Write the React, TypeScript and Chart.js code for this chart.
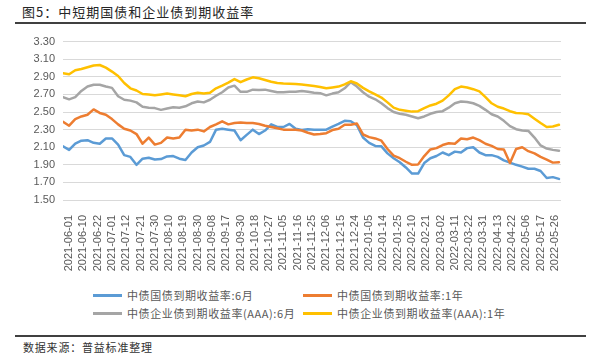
import React, { useEffect, useRef } from 'react';
import { Chart, registerables } from 'chart.js';

Chart.register(...registerables);

// x-axis tick labels (one every 7 trading days)
const TICK_LABELS = [
  '2021-06-01', '2021-06-10', '2021-06-22', '2021-07-01', '2021-07-12', '2021-07-21', '2021-07-30',
  '2021-08-10', '2021-08-19', '2021-08-30', '2021-09-08', '2021-09-17', '2021-09-30', '2021-10-18',
  '2021-10-27', '2021-11-05', '2021-11-16', '2021-11-25', '2021-12-06', '2021-12-15', '2021-12-24',
  '2022-01-05', '2022-01-14', '2022-01-25', '2022-02-10', '2022-02-21', '2022-03-02', '2022-03-11',
  '2022-03-22', '2022-03-31', '2022-04-13', '2022-04-22', '2022-05-06', '2022-05-17', '2022-05-26',
];
const FIRST_TICK_INDEX = 3; // trading-day index of 2021-06-01
const TICK_STEP = 7;        // trading days between labels
const LAST_INDEX = 244;     // last trading-day index
const SAMPLE_STEP = 3;      // values below are sampled every 3 trading days

const SERIES_NAMES = [
  '中债国债到期收益率:6月',
  '中债国债到期收益率:1年',
  '中债企业债到期收益率(AAA):6月',
  '中债企业债到期收益率(AAA):1年',
];

const GOV_6M = [
  2.11, 2.07, 2.14, 2.175, 2.18, 2.15, 2.14, 2.20, 2.20, 2.13,
  2.01, 1.99, 1.90, 1.97, 1.98, 1.96, 1.965, 1.995, 2.00, 1.97,
  1.955, 2.04, 2.10, 2.12, 2.16, 2.30, 2.31, 2.30, 2.29, 2.18,
  2.24, 2.30, 2.25, 2.29, 2.36, 2.33, 2.33, 2.365, 2.31, 2.295,
  2.305, 2.30, 2.30, 2.30, 2.335, 2.365, 2.40, 2.395, 2.35, 2.21,
  2.15, 2.115, 2.11, 2.03, 1.975, 1.93, 1.87, 1.80, 1.80, 1.92,
  1.975, 2.00, 2.04, 2.01, 2.05, 2.04, 2.09, 2.10, 2.04, 2.01,
  2.01, 1.99, 1.95, 1.925, 1.90, 1.88, 1.855, 1.855, 1.83, 1.75,
  1.76, 1.74,
];

const GOV_1Y = [
  2.39, 2.345, 2.42, 2.45, 2.47, 2.53, 2.49, 2.47, 2.42, 2.36,
  2.31, 2.29, 2.25, 2.14, 2.21, 2.13, 2.15, 2.21, 2.20, 2.21,
  2.30, 2.29, 2.30, 2.28, 2.33, 2.36, 2.395, 2.36, 2.375, 2.38,
  2.375, 2.375, 2.365, 2.345, 2.33, 2.315, 2.30, 2.30, 2.30, 2.29,
  2.265, 2.245, 2.25, 2.26, 2.295, 2.31, 2.355, 2.355, 2.37, 2.245,
  2.215, 2.20, 2.175, 2.08, 2.005, 1.975, 1.935, 1.90, 1.905, 2.00,
  2.075, 2.09, 2.125, 2.145, 2.14, 2.20, 2.19, 2.21, 2.18, 2.14,
  2.115, 2.08, 2.075, 1.92, 2.08, 2.10, 2.055, 2.03, 1.99, 1.96,
  1.925, 1.93,
];

const CORP_6M = [
  2.67, 2.645, 2.67, 2.74, 2.79, 2.81, 2.81, 2.79, 2.775, 2.68,
  2.64, 2.63, 2.61, 2.56, 2.55, 2.545, 2.525, 2.54, 2.555, 2.55,
  2.565, 2.60, 2.62, 2.61, 2.64, 2.685, 2.725, 2.78, 2.80, 2.73,
  2.73, 2.755, 2.75, 2.755, 2.74, 2.725, 2.725, 2.73, 2.732, 2.74,
  2.73, 2.72, 2.715, 2.69, 2.71, 2.725, 2.77, 2.84, 2.79, 2.725,
  2.675, 2.645, 2.60, 2.545, 2.50, 2.48, 2.47, 2.45, 2.43, 2.45,
  2.48, 2.50, 2.51, 2.55, 2.60, 2.62, 2.615, 2.60, 2.57, 2.525,
  2.475, 2.45, 2.40, 2.34, 2.305, 2.29, 2.285, 2.21, 2.12, 2.085,
  2.07, 2.06,
];

const CORP_1Y = [
  2.94, 2.93, 2.975, 2.99, 3.01, 3.03, 3.035, 3.005, 2.96, 2.91,
  2.83, 2.77, 2.745, 2.705, 2.70, 2.69, 2.70, 2.71, 2.70, 2.69,
  2.68, 2.705, 2.72, 2.71, 2.72, 2.77, 2.80, 2.835, 2.875, 2.84,
  2.87, 2.895, 2.885, 2.865, 2.845, 2.83, 2.825, 2.822, 2.818, 2.812,
  2.805, 2.795, 2.785, 2.77, 2.78, 2.79, 2.815, 2.85, 2.825, 2.775,
  2.735, 2.70, 2.665, 2.61, 2.55, 2.525, 2.515, 2.505, 2.51, 2.545,
  2.575, 2.595, 2.63, 2.69, 2.76, 2.79, 2.78, 2.76, 2.735, 2.67,
  2.60, 2.56, 2.54, 2.51, 2.49, 2.485, 2.475, 2.425, 2.375, 2.33,
  2.335, 2.355,
];

const SERIES = [GOV_6M, GOV_1Y, CORP_6M, CORP_1Y];
const COLORS = ['#5B9BD5', '#ED7D31', '#A5A5A5', '#FFC000'];

const Y_MIN = 1.5;
const Y_MAX = 3.3;
const Y_STEP = 0.2;

const TITLE = '图5：中短期国债和企业债到期收益率';
const SOURCE = '数据来源：普益标准整理';

const CJK = "'Noto Sans CJK SC', 'Noto Sans', sans-serif";

export default function App() {
  const canvasRef = useRef<HTMLCanvasElement | null>(null);

  useEffect(() => {
    const canvas = canvasRef.current;
    if (!canvas) return;
    Chart.defaults.font.family = "'Liberation Sans', Arial, sans-serif";
    const chart = new Chart(canvas, {
      type: 'line',
      data: {
        datasets: SERIES.map((s, k) => ({
          label: SERIES_NAMES[k],
          data: s.map((y, i) => ({ x: i * SAMPLE_STEP, y })),
          borderColor: COLORS[k],
          backgroundColor: COLORS[k],
          borderWidth: 2.5,
          pointRadius: 0,
          tension: 0,
          order: SERIES.length - k,
          borderJoinStyle: 'round',
          borderCapStyle: 'round',
        })),
      },
      options: {
        animation: false,
        responsive: false,
        layout: { padding: { left: 0, right: 40, top: 41.7, bottom: 0 } },
        plugins: { legend: { display: false }, tooltip: { enabled: false }, title: { display: false } },
        scales: {
          x: {
            type: 'linear',
            min: 0,
            max: LAST_INDEX,
            grid: { display: false },
            border: { display: false },
            afterBuildTicks: (axis: any) => {
              axis.ticks = TICK_LABELS.map((_, i) => ({ value: FIRST_TICK_INDEX + i * TICK_STEP }));
            },
            afterFit: (axis: any) => {
              axis.height = 80;
            },
            ticks: {
              autoSkip: false,
              minRotation: 90,
              maxRotation: 90,
              padding: 7,
              color: '#595959',
              font: { size: 11 },
              callback: (v: any) => TICK_LABELS[Math.round((Number(v) - FIRST_TICK_INDEX) / TICK_STEP)] ?? '',
            },
          },
          y: {
            min: Y_MIN,
            max: Y_MAX,
            grid: { color: '#d9d9d9', drawTicks: false, lineWidth: 1 },
            border: { display: false },
            afterFit: (axis: any) => {
              axis.width = 63;
            },
            ticks: {
              stepSize: Y_STEP,
              padding: 8,
              color: '#595959',
              font: { size: 11 },
              callback: (v: any) => Number(v).toFixed(2),
            },
          },
        },
      },
    } as any);
    return () => chart.destroy();
  }, []);

  const legendPos = [
    { left: 93, top: 295 },
    { left: 303, top: 295 },
    { left: 93, top: 313 },
    { left: 303, top: 313 },
  ];

  return (
    <div style={{ position: 'absolute', left: 0, top: 0, width: 601, height: 358, background: '#fff', fontFamily: CJK }}>
      <div style={{ position: 'absolute', left: 22, top: 5, fontSize: 13, lineHeight: '14px', letterSpacing: 1, color: '#262626', whiteSpace: 'nowrap' }}>
        {TITLE}
      </div>
      <div style={{ position: 'absolute', left: 15, top: 22, width: 571, height: 2, background: '#404040' }} />
      <canvas ref={canvasRef} width={601} height={280} style={{ position: 'absolute', left: 0, top: 0 }} />
      {SERIES_NAMES.map((name, k) => (
        <div key={name}>
          <div style={{ position: 'absolute', left: legendPos[k].left, top: legendPos[k].top - 1.5, width: 29, height: 3, background: COLORS[k] }} />
          <div style={{ position: 'absolute', left: legendPos[k].left + 34, top: legendPos[k].top - 7, fontSize: 11, lineHeight: '14px', letterSpacing: 0.6, color: '#595959', whiteSpace: 'nowrap' }}>
            {name}
          </div>
        </div>
      ))}
      <div style={{ position: 'absolute', left: 15, top: 335, width: 571, height: 2, background: '#404040' }} />
      <div style={{ position: 'absolute', left: 23, top: 341, fontSize: 11, lineHeight: '13px', letterSpacing: 0.8, color: '#333', whiteSpace: 'nowrap' }}>
        {SOURCE}
      </div>
    </div>
  );
}
